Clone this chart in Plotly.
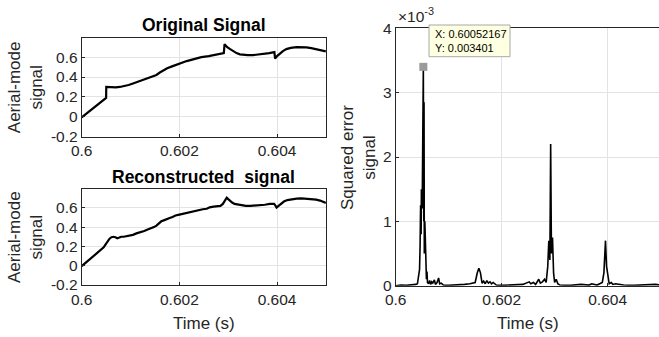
import plotly.graph_objects as go

W, H = 659, 337

# ---------------- data ----------------
orig_t = [0.6, 0.60050, 0.600503, 0.60057, 0.60064, 0.60070, 0.60078, 0.60086, 0.60096,
          0.60105, 0.60115, 0.60125, 0.60135, 0.60145, 0.60153, 0.60160, 0.60167, 0.60175,
          0.60185, 0.60200, 0.60215, 0.60230, 0.60245, 0.60260, 0.60275, 0.60291, 0.602925,
          0.60298, 0.60304, 0.60310, 0.60317, 0.60324, 0.60331, 0.60340, 0.60351, 0.60362,
          0.60372, 0.60384, 0.603945, 0.60396, 0.60400, 0.60406, 0.60412, 0.60419, 0.60428,
          0.60440, 0.60450, 0.60460, 0.60470, 0.60481, 0.60490, 0.60500]
orig_v = [-0.005, 0.19, 0.30, 0.297, 0.293, 0.295, 0.30, 0.308, 0.32,
          0.335, 0.352, 0.37, 0.39, 0.41, 0.42, 0.445, 0.467, 0.487,
          0.507, 0.535, 0.56, 0.58, 0.60, 0.61, 0.625, 0.64, 0.73,
          0.70, 0.68, 0.66, 0.64, 0.628, 0.623, 0.62, 0.62, 0.625,
          0.633, 0.64, 0.65, 0.585, 0.61, 0.64, 0.66, 0.68, 0.693,
          0.70, 0.70, 0.697, 0.69, 0.68, 0.67, 0.657]

rec_t = [0.6000, 0.60008, 0.60015, 0.60022, 0.60030, 0.60036, 0.60041, 0.60045, 0.60049,
         0.60053, 0.60057, 0.60061, 0.60065, 0.60069, 0.60073, 0.60077, 0.60081, 0.60086,
         0.60092, 0.60098, 0.60105, 0.60112, 0.60120, 0.60128, 0.60135, 0.60142, 0.60148,
         0.60153, 0.60158, 0.60163, 0.60168, 0.60174, 0.60180, 0.60186, 0.60192, 0.60200,
         0.60208, 0.60216, 0.60224, 0.60232, 0.60240, 0.60248, 0.60256, 0.60262, 0.60270,
         0.60278, 0.60284, 0.60289, 0.60293, 0.60297, 0.60300, 0.60304, 0.60308, 0.60313,
         0.60320, 0.60328, 0.60336, 0.60345, 0.60355, 0.60365, 0.60375, 0.60385, 0.60391,
         0.60394, 0.60397, 0.60399, 0.60403, 0.60408, 0.60414, 0.60421, 0.60430, 0.60440,
         0.60450, 0.60460, 0.60470, 0.60480, 0.60488, 0.60495, 0.60500]
rec_v = [-0.005, 0.03, 0.06, 0.09, 0.12, 0.15, 0.17, 0.19, 0.22,
         0.25, 0.28, 0.295, 0.30, 0.295, 0.285, 0.292, 0.30, 0.30,
         0.307, 0.31, 0.32, 0.335, 0.345, 0.36, 0.375, 0.385, 0.40,
         0.415, 0.44, 0.46, 0.47, 0.485, 0.495, 0.505, 0.52, 0.53,
         0.54, 0.55, 0.56, 0.567, 0.575, 0.585, 0.59, 0.605, 0.612,
         0.618, 0.62, 0.64, 0.67, 0.705, 0.69, 0.67, 0.655, 0.64,
         0.632, 0.625, 0.62, 0.62, 0.622, 0.625, 0.632, 0.64, 0.645,
         0.64, 0.62, 0.602, 0.62, 0.645, 0.665, 0.68, 0.69, 0.695,
         0.697, 0.695, 0.69, 0.685, 0.675, 0.665, 0.65]

err_t = [0.6000, 0.60010, 0.60020, 0.60030, 0.60038, 0.60041, 0.60043, 0.60045, 0.60046,
         0.60047, 0.600475, 0.60048, 0.600485, 0.60050, 0.60051, 0.60052167, 0.60053,
         0.600535, 0.60054, 0.60055, 0.60056, 0.60057, 0.60058, 0.60059, 0.60060, 0.60062,
         0.60064, 0.60066, 0.60068, 0.60070, 0.60073, 0.60075, 0.60078, 0.60081, 0.60083,
         0.60086, 0.60090, 0.6010, 0.6012, 0.6013, 0.60140, 0.60150, 0.60154, 0.60157,
         0.60160, 0.60163, 0.60166, 0.60169, 0.60172, 0.60175, 0.60178, 0.60181, 0.60184,
         0.6019, 0.6020, 0.6022, 0.6024, 0.60252, 0.60255, 0.60260, 0.60264, 0.60270,
         0.60273, 0.60277, 0.60281, 0.60284, 0.60287, 0.60289, 0.60291, 0.602925, 0.60294,
         0.60296, 0.60298, 0.60300, 0.60303, 0.60306, 0.6031, 0.6033, 0.6035, 0.60365,
         0.6037, 0.6038, 0.60390, 0.60393, 0.60396, 0.60398, 0.60400, 0.60403, 0.60407,
         0.60410, 0.60415, 0.6043, 0.6045, 0.6047, 0.6049, 0.6050]
err_v_e3 = [0.0, 0.01, 0.005, 0.01, 0.02, 0.03, 0.15, 0.25, 0.6,
            1.25, 0.9, 0.8, 1.5, 1.2, 2.5, 3.401, 1.0,
            2.85, 0.5, 1.0, 0.7, 0.2, 0.1, 0.22, 0.05, 0.03,
            0.08, 0.02, 0.06, 0.04, 0.09, 0.02, 0.05, 0.12, 0.03,
            0.04, 0.01, 0.005, 0.01, 0.02, 0.03, 0.05, 0.2, 0.27,
            0.2, 0.04, 0.07, 0.03, 0.08, 0.04, 0.06, 0.03, 0.05,
            0.01, 0.005, 0.01, 0.02, 0.06, 0.03, 0.05, 0.02, 0.1,
            0.04, 0.06, 0.1, 0.05, 0.3, 0.7, 0.4, 2.2, 0.5,
            0.75, 0.2, 0.05, 0.1, 0.03, 0.01, 0.005, 0.02, 0.01,
            0.03, 0.01, 0.05, 0.2, 0.7, 0.3, 0.15, 0.03, 0.05,
            0.02, 0.03, 0.01, 0.005, 0.01, 0.02, 0.01]
err_v = [v * 1e-3 for v in err_v_e3]

tip_t = [0.60052167]
tip_v = [0.003401]

sig_ticks = [-0.2, 0, 0.2, 0.4, 0.6]
sig_ticktext = ["-0.2", "0", "0.2", "0.4", "0.6"]
time_ticks = [0.6, 0.602, 0.604]
time_ticktext = ["0.6", "0.602", "0.604"]
err_ticks = [0, 0.001, 0.002, 0.003, 0.004]
err_ticktext = ["0", "1", "2", "3", "4"]

# ---------------- layout helpers ----------------
def px(x):
    return x / W

def py(y):
    return 1 - y / H

FONT = "Liberation Sans, Arial, Helvetica, sans-serif"
TXT = "#262626"
GRID = "#e3e3e3"
TICKF = dict(family=FONT, size=15.5, color=TXT)

def xax(domain, anchor, rng, show_labels=True):
    return dict(domain=domain, anchor=anchor, range=rng, tickvals=time_ticks,
                ticktext=time_ticktext, showticklabels=show_labels,
                showline=True, linecolor=TXT, linewidth=1, mirror=True,
                ticks="inside", ticklen=3, tickcolor=TXT,
                showgrid=True, gridcolor=GRID, gridwidth=1, automargin=False,
                zeroline=False, tickfont=TICKF, fixedrange=True)

def yax(domain, anchor, rng, vals, texts, mirror=True):
    return dict(domain=domain, anchor=anchor, range=rng, tickvals=vals,
                ticktext=texts, showline=True, linecolor=TXT, linewidth=1,
                mirror=mirror, ticks="inside", ticklen=3, tickcolor=TXT,
                showgrid=True, gridcolor=GRID, gridwidth=1, automargin=False,
                zeroline=False, tickfont=TICKF, fixedrange=True)

fig = go.Figure()
fig.add_trace(go.Scatter(x=orig_t, y=orig_v, mode="lines",
                         line=dict(color="black", width=2.2), xaxis="x", yaxis="y"))
fig.add_trace(go.Scatter(x=rec_t, y=rec_v, mode="lines",
                         line=dict(color="black", width=2.2), xaxis="x2", yaxis="y2"))
fig.add_trace(go.Scatter(x=err_t, y=err_v, mode="lines",
                         line=dict(color="black", width=1.6), xaxis="x3", yaxis="y3"))
fig.add_trace(go.Scatter(x=tip_t, y=tip_v, mode="markers",
                         marker=dict(symbol="square", size=8, color="#9a9a9a"),
                         xaxis="x3", yaxis="y3", cliponaxis=False))

L_dom = [px(81.7), px(325.9)]
R_dom = [px(395.7), 1.0]

fig.update_layout(
    template="none",
    width=W, height=H, margin=dict(l=0, r=0, t=0, b=0, autoexpand=False),
    paper_bgcolor="white", plot_bgcolor="white", showlegend=False,
    font=dict(family=FONT, color=TXT),
    xaxis=xax(L_dom, "y", [0.6, 0.605]),
    yaxis=yax([py(136.7), py(37.7)], "x", [-0.2, 0.795], sig_ticks, sig_ticktext),
    xaxis2=xax(L_dom, "y2", [0.6, 0.605]),
    yaxis2=yax([py(285), py(189)], "x2", [-0.2, 0.795], sig_ticks, sig_ticktext),
    xaxis3=xax(R_dom, "y3", [0.6, 0.60497]),
    yaxis3=yax([py(285.7), py(28.3)], "x3", [0, 0.004], err_ticks, err_ticktext, mirror=False),
)

LBL = dict(family=FONT, size=17, color=TXT)
TTL = dict(family=FONT, size=17.5, color="black")
ann = []
ann.append(dict(text="<b>Original Signal</b>", x=px(203.8), y=py(25), xref="paper", yref="paper",
                showarrow=False, xanchor="center", yanchor="middle", font=TTL))
ann.append(dict(text="<b>Reconstructed  signal</b>", x=px(203.8), y=py(177), xref="paper", yref="paper",
                showarrow=False, xanchor="center", yanchor="middle", font=TTL))
ann.append(dict(text="Aerial-mode<br>signal", x=px(25), y=py(87.2), xref="paper", yref="paper",
                showarrow=False, xanchor="center", yanchor="middle", textangle=-90, font=LBL))
ann.append(dict(text="Aerial-mode<br>signal", x=px(25), y=py(237), xref="paper", yref="paper",
                showarrow=False, xanchor="center", yanchor="middle", textangle=-90, font=LBL))
ann.append(dict(text="Squared error<br>signal", x=px(358), y=py(157), xref="paper", yref="paper",
                showarrow=False, xanchor="center", yanchor="middle", textangle=-90, font=LBL))
ann.append(dict(text="Time (s)", x=px(203.8), y=py(323), xref="paper", yref="paper",
                showarrow=False, xanchor="center", yanchor="middle", font=LBL))
ann.append(dict(text="Time (s)", x=px(528), y=py(323), xref="paper", yref="paper",
                showarrow=False, xanchor="center", yanchor="middle", font=LBL))
ann.append(dict(text="×10<sup>-3</sup>", x=px(396), y=py(27), xref="paper", yref="paper",
                showarrow=False, xanchor="left", yanchor="bottom", font=TICKF))
ann.append(dict(text="X: 0.60052167<br>Y: 0.003401", x=px(433), y=py(41), xref="paper", yref="paper",
                showarrow=False, xanchor="left", yanchor="middle", align="left",
                font=dict(family=FONT, size=11, color="black")))
fig.update_layout(annotations=ann)

fig.add_shape(type="rect", xref="paper", yref="paper",
              x0=px(429), x1=px(510), y0=py(56.7), y1=py(25),
              fillcolor="#ffffe1", line=dict(color="#a8a8a8", width=1), layer="above")

fig.write_html("out.html", config={"displayModeBar": False},
               post_script="document.body.style.margin='0';document.body.style.overflow='hidden';")
